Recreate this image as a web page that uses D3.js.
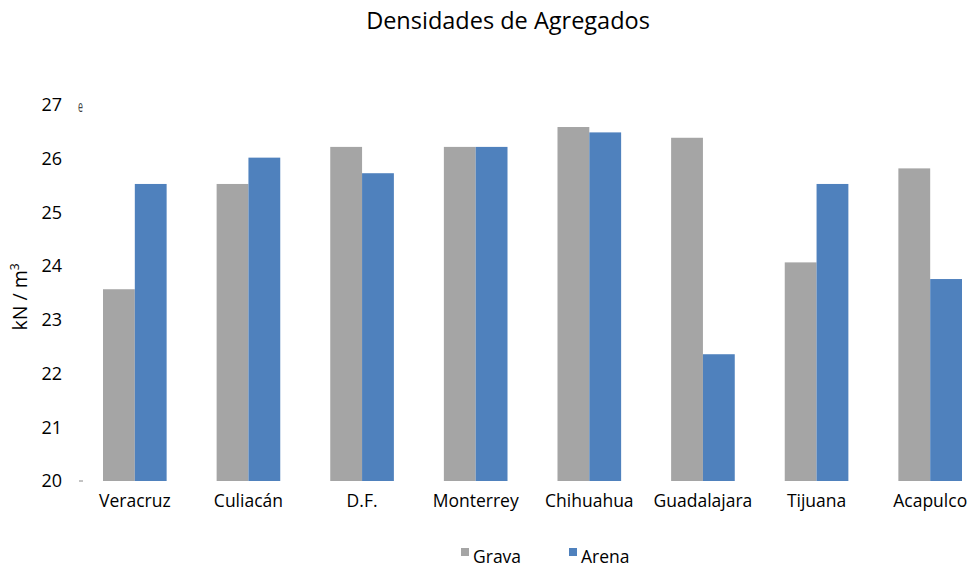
<!DOCTYPE html>
<html>
<head>
<meta charset="utf-8">
<script src="https://cdn.jsdelivr.net/npm/d3@7"></script>
<style>
  body { margin: 0; background: #fff; }
  text { font-family: "Open Sans", "Noto Sans", sans-serif; fill: #000; }
</style>
</head>
<body>
<svg width="973" height="567"></svg>
<script>
var cities = ['Veracruz', 'Culiacán', 'D.F.', 'Monterrey', 'Chihuahua', 'Guadalajara', 'Tijuana', 'Acapulco'];
var series = ['Grava', 'Arena'];
var grava = [23.57, 25.53, 26.22, 26.22, 26.59, 26.39, 24.07, 25.82];
var arena = [25.53, 26.02, 25.73, 26.22, 26.49, 22.36, 25.53, 23.76];
var yTicks = [20, 21, 22, 23, 24, 25, 26, 27];
var colors = ['#a5a5a5', '#4f81bd'];

var svg = d3.select('svg');

var rows = cities.map(function(c, i) {
  return { city: c, values: [grava[i], arena[i]] };
});

var x0 = d3.scaleBand()
  .domain(cities)
  .range([78, 987])
  .paddingInner(0.44)
  .paddingOuter(0.22);

var x1 = d3.scaleBand()
  .domain(series)
  .range([0, x0.bandwidth()]);

var y = d3.scaleLinear()
  .domain([20, 27])
  .range([481, 105]);

// title
svg.append('text')
  .attr('x', 508)
  .attr('y', 29)
  .attr('text-anchor', 'middle')
  .style('font-size', '23.5px')
  .text('Densidades de Agregados');

// y axis labels
var yAxis = d3.axisLeft(y).tickValues(yTicks).tickFormat(d3.format('d')).tickSize(0).tickPadding(0);
var gy = svg.append('g')
  .attr('transform', 'translate(62,0)')
  .call(yAxis);
gy.select('.domain').remove();
gy.selectAll('text')
  .style('font-size', '18px')
  .style('font-family', '"Open Sans", sans-serif')
  .attr('fill', '#000');

// small leftover marks near the axis
svg.append('text')
  .attr('transform', 'translate(78,112) scale(0.8,1.4)')
  .style('font-size', '11px')
  .style('fill', '#444')
  .text('e');
svg.append('line').attr('x1', 79).attr('x2', 83).attr('y1', y(20)).attr('y2', y(20)).attr('stroke', '#888');

// y title
svg.append('text')
  .attr('transform', 'translate(27,297) rotate(-90)')
  .attr('text-anchor', 'middle')
  .style('font-size', '19.5px')
  .html('kN / m<tspan dy="-8" style="font-size:12px">3</tspan>');

// bars
var groups = svg.selectAll('g.city')
  .data(rows)
  .enter()
  .append('g')
  .attr('class', 'city')
  .attr('transform', function(d) { return 'translate(' + x0(d.city) + ',0)'; });

groups.selectAll('rect')
  .data(function(d) { return d.values.map(function(v, i) { return { key: series[i], value: v }; }); })
  .enter()
  .append('rect')
  .attr('x', function(d) { return x1(d.key); })
  .attr('y', function(d) { return y(d.value); })
  .attr('width', x1.bandwidth())
  .attr('height', function(d) { return y(20) - y(d.value); })
  .attr('fill', function(d, i) { return colors[i]; });

// x labels
var xAxis = d3.axisBottom(x0).tickSize(0).tickPadding(0);
var gx = svg.append('g')
  .attr('transform', 'translate(0,' + 495 + ')')
  .call(xAxis);
gx.select('.domain').remove();
gx.selectAll('text')
  .style('font-size', '17.5px')
  .style('font-family', '"Open Sans", sans-serif')
  .attr('fill', '#000');

// legend
var legendX = [461, 569];
var legend = svg.selectAll('g.legend')
  .data(series)
  .enter()
  .append('g')
  .attr('class', 'legend')
  .attr('transform', function(d, i) { return 'translate(' + legendX[i] + ',548)'; });
legend.append('rect')
  .attr('width', 8)
  .attr('height', 8)
  .attr('fill', function(d, i) { return colors[i]; });
legend.append('text')
  .attr('x', 12)
  .attr('y', 14.5)
  .style('font-size', '17.5px')
  .text(function(d) { return d; });
</script>
</body>
</html>
